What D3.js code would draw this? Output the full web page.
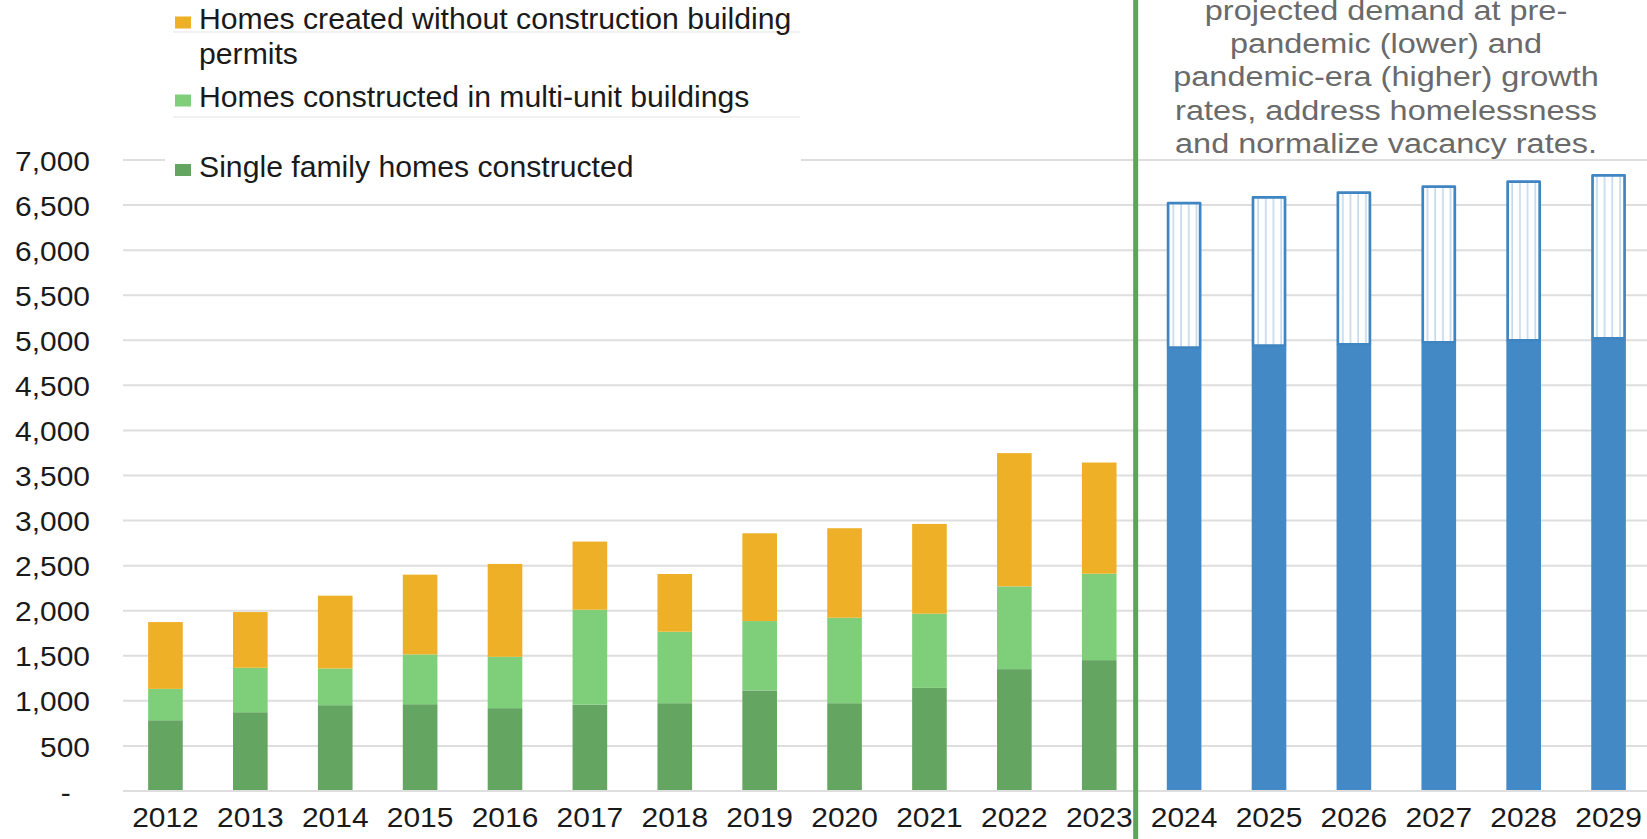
<!DOCTYPE html>
<html>
<head>
<meta charset="utf-8">
<script src="https://cdn.jsdelivr.net/npm/d3@7/dist/d3.min.js"></script>
<style>
  html, body { margin: 0; padding: 0; background: #fff; }
  svg { display: block; font-family: "Liberation Sans", Arial, sans-serif; }
</style>
</head>
<body>
<svg id="chart" width="1647" height="839"></svg>
<script>
// Years on the category axis
const years = ["2012","2013","2014","2015","2016","2017","2018","2019","2020","2021","2022","2023",
               "2024","2025","2026","2027","2028","2029"];
const historicalYears = years.slice(0, 12);
const projectedYears = years.slice(12);

// Homes added per year, by type (2012–2023)
const singleFamily = [785, 874, 952, 963, 919, 959, 974, 1115, 974, 1144, 1352, 1452];
const multiUnit    = [348, 493, 407, 552, 570, 1052, 793, 770, 948, 823, 918, 959];
const noPermit     = [741, 618, 808, 885, 1030, 756, 640, 974, 993, 996, 1478, 1233];

// Projected annual demand (2024–2029): pre-pandemic growth (lower) and pandemic-era growth (higher)
const projLower  = [4919, 4941, 4956, 4978, 5000, 5022];
const projHigher = [6522, 6585, 6637, 6704, 6759, 6829];

// Y axis ticks
const yTicks = [0, 500, 1000, 1500, 2000, 2500, 3000, 3500, 4000, 4500, 5000, 5500, 6000, 6500, 7000];

// Legend entries
const legendItems = [
  { lines: ["Homes created without construction building", "permits"], key: "noPermit" },
  { lines: ["Homes constructed in multi-unit buildings"], key: "multiUnit" },
  { lines: ["Single family homes constructed"], key: "singleFamily" }
];

// Note beside the projections
const noteLines = [
  "projected demand at pre-",
  "pandemic (lower) and",
  "pandemic-era (higher) growth",
  "rates, address homelessness",
  "and normalize vacancy rates."
];

const colors = {
  singleFamily: "#65a562",
  multiUnit: "#7fcf7a",
  noPermit: "#edb027",
  blue: "#4289c6",
  blueEdge: "#3f85c2",
  hatch: "#b3cfe8",
  grid: "#dedede",
  divider: "#5fa35b",
  text: "#1a1a1a",
  note: "#6a6a6a"
};

const svg = d3.select("#chart");

const x = d3.scaleBand()
  .domain(years)
  .range([123, 1651])
  .paddingInner(0.592)
  .paddingOuter(0.296);

const y = d3.scaleLinear()
  .domain([0, 7000])
  .range([791, 160]);

// Hatch for the upper (higher-growth) projection
const defs = svg.append("defs");
const pat = defs.append("pattern")
  .attr("id", "vlines")
  .attr("patternUnits", "userSpaceOnUse")
  .attr("width", 7.7)
  .attr("height", 10);
pat.append("rect").attr("width", 7.7).attr("height", 10).attr("fill", "#fff");
pat.append("line")
  .attr("x1", 3).attr("x2", 3).attr("y1", 0).attr("y2", 10)
  .attr("stroke", colors.hatch).attr("stroke-width", 1.3);

// Gridlines
const grid = svg.append("g");
grid.selectAll("line")
  .data(yTicks)
  .join("line")
  .attr("x1", 123).attr("x2", 1647)
  .attr("y1", d => y(d)).attr("y2", d => y(d))
  .attr("stroke", colors.grid)
  .attr("stroke-width", 2);

// Y axis labels
const yAxis = d3.axisLeft(y)
  .tickValues(yTicks)
  .tickSize(0)
  .tickPadding(0)
  .tickFormat(d => d === 0 ? "-" : d3.format(",")(d));
const yg = svg.append("g").attr("transform", "translate(90,0)").call(yAxis);
yg.select(".domain").remove();
yg.selectAll("text")
  .attr("font-size", 28)
  .attr("fill", colors.text)
  .attr("font-family", "Liberation Sans, Arial, sans-serif")
  .attr("dx", d => d === 0 ? -18 : 0)
  .attr("dy", "0.36em")
  .attr("transform", "scale(1.07,1)")
  .attr("transform-origin", "0 0");

// Stacked historical bars
const histData = historicalYears.map((yr, i) => ({
  year: yr, singleFamily: singleFamily[i], multiUnit: multiUnit[i], noPermit: noPermit[i]
}));
const stack = d3.stack().keys(["singleFamily", "multiUnit", "noPermit"]);
const series = stack(histData);

svg.append("g")
  .selectAll("g")
  .data(series)
  .join("g")
  .attr("fill", s => colors[s.key])
  .selectAll("rect")
  .data(s => s)
  .join("rect")
  .attr("x", d => x(d.data.year))
  .attr("width", x.bandwidth())
  .attr("y", d => y(d[1]))
  .attr("height", d => y(d[0]) - y(d[1]));

// Projected bars: solid lower demand, hatched increment up to higher demand
const projData = projectedYears.map((yr, i) => ({ year: yr, lower: projLower[i], higher: projHigher[i] }));
const proj = svg.append("g");
proj.selectAll("rect.lower")
  .data(projData)
  .join("rect")
  .attr("class", "lower")
  .attr("x", d => x(d.year))
  .attr("width", x.bandwidth())
  .attr("y", d => y(d.lower))
  .attr("height", d => y(0) - y(d.lower))
  .attr("fill", colors.blue);
proj.selectAll("rect.higher")
  .data(projData)
  .join("rect")
  .attr("class", "higher")
  .attr("x", d => x(d.year) + 1.3)
  .attr("width", x.bandwidth() - 2.6)
  .attr("y", d => y(d.higher))
  .attr("height", d => y(d.lower) - y(d.higher))
  .attr("fill", "url(#vlines)")
  .attr("stroke", colors.blueEdge)
  .attr("stroke-width", 2.7)
  .attr("stroke-linejoin", "round");

// X axis
svg.append("line")
  .attr("x1", 123).attr("x2", 1647)
  .attr("y1", y(0)).attr("y2", y(0))
  .attr("stroke", colors.grid).attr("stroke-width", 2);

const xAxis = d3.axisBottom(x).tickSize(0).tickPadding(0);
const xg = svg.append("g").attr("transform", "translate(0,827)").call(xAxis);
xg.select(".domain").remove();
xg.selectAll("text")
  .attr("font-size", 28)
  .attr("fill", colors.text)
  .attr("font-family", "Liberation Sans, Arial, sans-serif")
  .attr("dy", 0)
  .attr("transform", "scale(1.07,1)")
  .attr("transform-origin", "0 0");

// Divider between history and projections
const divX = (x("2023") + x.bandwidth() + x("2024")) / 2 - 6;
svg.append("line")
  .attr("x1", divX).attr("x2", divX)
  .attr("y1", 0).attr("y2", 839)
  .attr("stroke", colors.divider)
  .attr("stroke-width", 5);

// Legend
const legend = svg.append("g");
legend.append("rect")
  .attr("x", 165).attr("y", 0).attr("width", 636).attr("height", 196)
  .attr("fill", "#fff");
[32, 117].forEach(ly => legend.append("line")
  .attr("x1", 173).attr("x2", 800).attr("y1", ly).attr("y2", ly)
  .attr("stroke", "#ececec").attr("stroke-width", 1.5));
const legendBaselines = [29, 107, 176.5];
legendItems.forEach((item, i) => {
  const by = legendBaselines[i];
  legend.append("rect")
    .attr("x", 175).attr("y", by - 12.5).attr("width", 16).attr("height", 12)
    .attr("fill", colors[item.key]);
  const t = legend.append("text")
    .attr("x", 199).attr("y", by)
    .attr("font-size", 30.2)
    .attr("fill", colors.text);
  item.lines.forEach((ln, j) => {
    t.append("tspan").attr("x", 199).attr("dy", j === 0 ? 0 : 35).text(ln);
  });
});

// Note text
const note = svg.append("text")
  .attr("text-anchor", "middle")
  .attr("font-size", 27.5)
  .attr("fill", colors.note)
  .attr("transform", "translate(1386,0) scale(1.18,1)");
noteLines.forEach((ln, i) => {
  note.append("tspan").attr("x", 0).attr("y", 20 + i * 33.2).text(ln);
});
</script>
</body>
</html>
